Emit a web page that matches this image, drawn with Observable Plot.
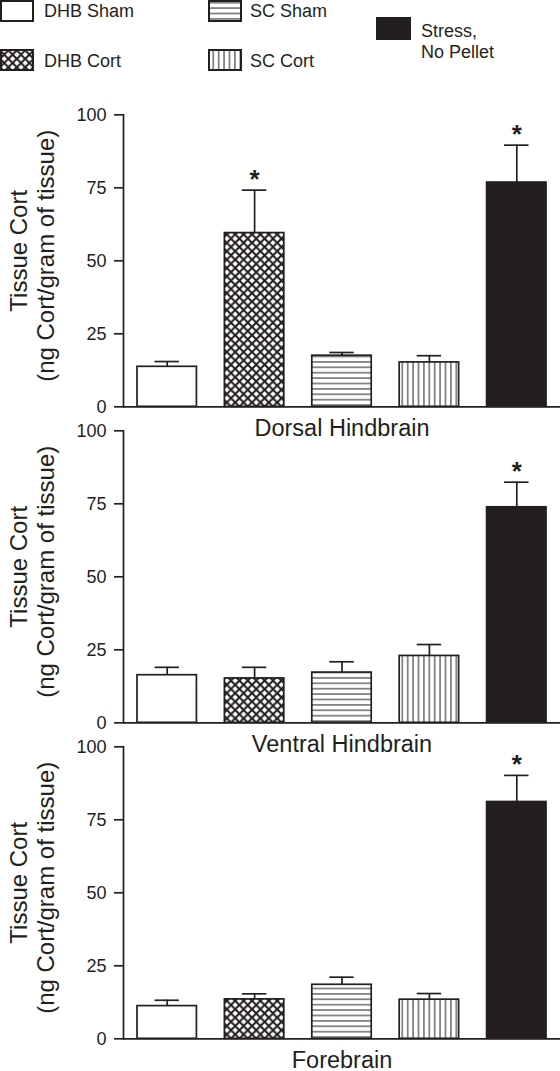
<!DOCTYPE html>
<html>
<head>
<meta charset="utf-8">
<script src="https://cdn.jsdelivr.net/npm/d3@7"></script>
<script src="https://cdn.jsdelivr.net/npm/@observablehq/plot@0.6"></script>
<style>
  html, body { margin: 0; padding: 0; background: white; }
  #wrap { position: relative; width: 560px; height: 1071px; font-family: "Liberation Sans", Arial, sans-serif; color: #231f20; }
  #legend { position: absolute; left: 0; top: 0; }
  #chart { position: absolute; left: 0; top: 100px; }
</style>
</head>
<body>
<div id="wrap">
  <svg id="legend" width="560" height="100" xmlns="http://www.w3.org/2000/svg">
    <defs>
      <pattern id="pat-cross" patternUnits="userSpaceOnUse" width="8.4" height="8.4">
        <rect width="8.4" height="8.4" fill="white"></rect>
        <path d="M0,0L8.4,8.4M8.4,0L0,8.4" stroke="#231f20" stroke-width="2.1" fill="none"></path>
      </pattern>
      <pattern id="pat-h" patternUnits="userSpaceOnUse" width="5.4" height="5.4">
        <rect width="5.4" height="5.4" fill="white"></rect>
        <line x1="0" x2="5.4" y1="2.7" y2="2.7" stroke="#231f20" stroke-width="1"></line>
      </pattern>
      <pattern id="pat-v" patternUnits="userSpaceOnUse" width="5.4" height="5.4">
        <rect width="5.4" height="5.4" fill="white"></rect>
        <line y1="0" y2="5.4" x1="2.7" x2="2.7" stroke="#231f20" stroke-width="1"></line>
      </pattern>
    </defs>
    <g id="legend-items"></g>
  </svg>
  <div id="chart"></div>
</div>
<script>
// ---- Data ----
const groups = ["DHB Sham", "DHB Cort", "SC Sham", "SC Cort", "Stress, No Pellet"];
const regions = ["Dorsal Hindbrain", "Ventral Hindbrain", "Forebrain"];

const dorsalMean = [13.7, 59.5, 17.5, 15.2, 76.8];
const dorsalSem  = [1.8, 14.7, 1.1, 2.3, 12.8];
const dorsalSig  = [false, true, false, false, true];

const ventralMean = [16.3, 15.2, 17.2, 22.9, 73.8];
const ventralSem  = [2.7, 3.8, 3.7, 3.9, 8.6];
const ventralSig  = [false, false, false, false, true];

const foreMean = [11.2, 13.5, 18.5, 13.4, 81.1];
const foreSem  = [2.0, 1.9, 2.6, 2.1, 9.1];
const foreSig  = [false, false, false, false, true];

const yTicks = [0, 25, 50, 75, 100];
const yLabel1 = "Tissue Cort";
const yLabel2 = "(ng Cort/gram of tissue)";

// ---- Styles ----
const ink = "#231f20";
const fills = ["white", "url(#pat-cross)", "url(#pat-h)", "url(#pat-v)", ink];

// ---- Table ----
const series = [
  [regions[0], dorsalMean, dorsalSem, dorsalSig],
  [regions[1], ventralMean, ventralSem, ventralSig],
  [regions[2], foreMean, foreSem, foreSig]
];
const data = series.flatMap(([region, m, s, sig]) =>
  groups.map((g, i) => ({region, group: g, mean: m[i], upper: m[i] + s[i], sig: sig[i]}))
);

// ---- Legend ----
const legendItems = d3.select("#legend-items");
const legendLayout = [
  {g: 0, x: 1, y: 1, w: 32, h: 20, tx: 44, lines: [["DHB Sham", 17]]},
  {g: 1, x: 1, y: 50, w: 32, h: 20, tx: 44, lines: [["DHB Cort", 67]]},
  {g: 2, x: 209, y: 1, w: 32, h: 20, tx: 250, lines: [["SC Sham", 17]]},
  {g: 3, x: 209, y: 50, w: 32, h: 20, tx: 250, lines: [["SC Cort", 67]]},
  {g: 4, x: 377, y: 18, w: 33, h: 21, tx: 421, lines: [["Stress,", 37], ["No Pellet", 58]]}
];
for (const it of legendLayout) {
  legendItems.append("rect")
    .attr("x", it.x).attr("y", it.y).attr("width", it.w).attr("height", it.h)
    .attr("fill", fills[it.g]).attr("stroke", ink).attr("stroke-width", 2);
  for (const [t, by] of it.lines) {
    legendItems.append("text").attr("x", it.tx).attr("y", by)
      .attr("font-family", "Liberation Sans, Arial, sans-serif")
      .attr("font-size", 18).attr("fill", ink).text(t);
  }
}

// ---- Chart ----
const chart = Plot.plot({
  width: 560,
  height: 971,
  marginTop: 14.3,
  marginBottom: 32.7,
  marginLeft: 123,
  marginRight: 0,
  style: {fontFamily: "Liberation Sans, Arial, sans-serif", color: ink, background: "white", overflow: "visible"},
  x: {domain: groups, paddingInner: 0.32, paddingOuter: 0.16, round: false, axis: null},
  y: {domain: [0, 100], axis: null},
  fy: {domain: regions, paddingInner: 0.0759, paddingOuter: 0, round: false, axis: null},
  color: {domain: groups, range: fills},
  marks: [
    Plot.barY(data, {x: "group", y: "mean", fy: "region", fill: "group", stroke: ink, strokeWidth: 1.7}),
    Plot.ruleX(data, {x: "group", y1: "mean", y2: "upper", fy: "region", stroke: ink, strokeWidth: 1.7}),
    Plot.tickY(data, {x: "group", y: "upper", fy: "region", stroke: ink, strokeWidth: 1.7, inset: 17.5}),
    Plot.text(data.filter(d => d.sig), {x: "group", y: "upper", fy: "region", text: () => "*",
      fontSize: 26, fontWeight: "bold", lineAnchor: "bottom", dy: -2, fill: ink}),
    Plot.ruleY([0], {stroke: ink, strokeWidth: 1.7}),
    Plot.frame({anchor: "left", stroke: ink, strokeWidth: 1.7}),
    Plot.axisY({ticks: yTicks, tickSize: 9, tickPadding: 8, fontSize: 18, stroke: ink, strokeWidth: 1.7, fill: ink}),
    Plot.text(regions, {fy: d => d, text: d => d, frameAnchor: "bottom", lineAnchor: "bottom", dy: 29, fontSize: 23.5, fill: ink}),
    Plot.text(regions, {fy: d => d, text: () => yLabel1, frameAnchor: "left", textAnchor: "middle", rotate: -90, dx: -104, dy: -10, fontSize: 24, fill: ink}),
    Plot.text(regions, {fy: d => d, text: () => yLabel2, frameAnchor: "left", textAnchor: "middle", rotate: -90, dx: -77.5, dy: -5, fontSize: 24, fill: ink})
  ]
});
document.getElementById("chart").appendChild(chart);
</script>
</body>
</html>
